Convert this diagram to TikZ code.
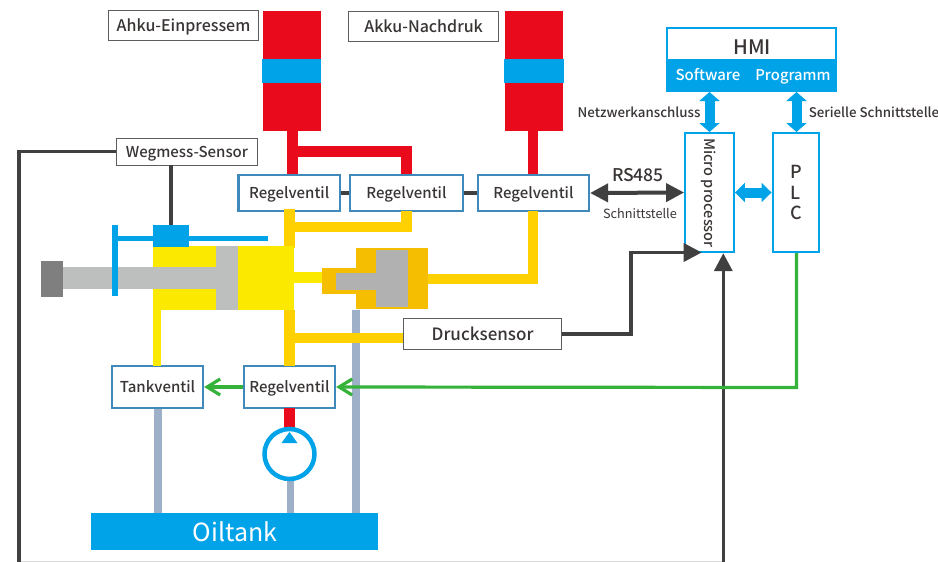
\documentclass[tikz,border=0pt]{standalone}
\usepackage{fontspec}
\setmainfont{Noto Sans CJK SC}[UprightFont=* Medium]
\newfontfamily\regfont{Noto Sans CJK SC}
\usetikzlibrary{arrows.meta}
\definecolor{cblue}{HTML}{00A2E8}
\definecolor{vblue}{HTML}{3F8ABB}
\definecolor{cred}{HTML}{E90A1C}
\definecolor{cyel}{HTML}{FCE900}
\definecolor{cgold}{HTML}{FFD100}
\definecolor{corg}{HTML}{F6BE00}
\definecolor{cgray}{HTML}{BDBFBE}
\definecolor{dgray}{HTML}{7F7F7F}
\definecolor{pgray}{HTML}{B1B1B1}
\definecolor{tank}{HTML}{9DB0C8}
\definecolor{cdark}{HTML}{404040}
\definecolor{cgreen}{HTML}{35B23A}
\definecolor{ctext}{HTML}{3A3535}
\tikzset{
  lbl/.style={draw=cdark!85,line width=0.9pt,fill=white,text=ctext,inner sep=0pt,font=\fontsize{16}{16}\selectfont,text height=11.7pt,text depth=0pt},
  valve/.style={draw=vblue,line width=2.2pt,fill=white,text=ctext,inner sep=0pt,font=\fontsize{15}{15}\selectfont,text height=11pt,text depth=0pt},
  unit/.style={draw=cblue,line width=2.4pt,fill=white,text=ctext,inner sep=0pt},
  oilred/.style={cred,line width=10.5pt},
  oilgold/.style={cgold,line width=10.5pt},
  oilyel/.style={cyel,line width=8pt},
  oiltank/.style={tank,line width=7.5pt},
  sig/.style={cdark,line width=3.5pt},
  grn/.style={cgreen,line width=3.2pt},
  vdbl/.style={cblue,line width=10pt,{Triangle[length=9pt,width=20pt]}-{Triangle[length=9pt,width=20pt]}},
  hdbl/.style={cblue,line width=10pt,{Triangle[length=10pt,width=19pt]}-{Triangle[length=10pt,width=19pt]}},
  rsdbl/.style={cdark,line width=4pt,{Triangle[length=18pt,width=18pt]}-{Triangle[length=18pt,width=18pt]}},
  sigarrow/.style={cdark,line width=3.5pt,-{Triangle[length=18pt,width=18pt]}},
  grnarrow/.style={grn,-{Straight Barb[length=13pt,width=16pt,line width=3.2pt]}},
  captxt/.style={text=ctext,inner sep=0pt,font=\fontsize{13.3}{13.3}\selectfont,text height=10pt,text depth=0pt},
}
\begin{document}
\begin{tikzpicture}[x=1pt,y=-1pt]
\useasboundingbox (0,0) rectangle (938,562);
\fill[white] (0,0) rectangle (938,562);
% tank lines first
\coordinate (tkr) at (356,310);
\node[fill=cblue,text=white,inner sep=0pt,minimum width=287pt,minimum height=37pt,font=\regfont\fontsize{25}{25}\selectfont] (oil) at (234.5,531.5) {\hspace{1pt}Oiltank};
\draw[oiltank] (tkr) -- (356,513);
% nodes
\node[valve,minimum width=101.5pt,minimum height=36pt] (rv1) at (289.2,193) {Regelventil};
\node[valve,minimum width=113pt,minimum height=36pt] (rv2) at (406.5,193) {Regelventil};
\node[valve,minimum width=111pt,minimum height=36pt] (rv3) at (533.5,193) {Regelventil};
\node[valve,minimum width=91pt,minimum height=42pt] (tv) at (157.5,387) {Tankventil};
\node[valve,minimum width=91pt,minimum height=42pt] (rv4) at (289.5,387) {Regelventil};
\node[lbl,minimum width=150.5pt,minimum height=30pt] (ak1) at (183.5,25.6) {Ahku-Einpressem\hspace{3pt}};
\node[lbl,minimum width=150pt,minimum height=30pt] (ak2) at (423.6,26.5) {Akku-Nachdruk\hspace{6pt}};
\node[lbl,minimum width=141pt,minimum height=27pt,font=\fontsize{15}{15}\selectfont,text height=11pt] (wm) at (187,151.5) {Wegmess-Sensor};
\node[lbl,minimum width=158.5pt,minimum height=30.5pt,font=\fontsize{17}{17}\selectfont,text height=12.5pt] (ds) at (482.6,334) {Drucksensor};
\node[unit,minimum width=48.5pt,minimum height=119pt] (mp) at (709.5,192.5) {};
\node[rotate=-90,text=ctext,inner sep=0pt,font=\fontsize{14.5}{15}\selectfont,text height=10.6pt,text depth=0pt] at (709.5,193) {Micro processor};
\node[unit,minimum width=46.5pt,minimum height=119pt,align=center,font=\fontsize{18}{20.5}\selectfont] (plc) at (796,192.5) {P\\L\\C};
\node[unit,minimum width=168.5pt,minimum height=63pt] (hmi) at (751.5,59.5) {};
\fill[cblue] (666,58.5) rectangle (837,92);
\node[text=ctext,inner sep=0pt,font=\fontsize{20}{20}\selectfont,text height=14.7pt,text depth=0pt] at (752,47) {HMI};
\node[text=white,inner sep=0pt,font=\fontsize{15}{15}\selectfont,text height=11pt,text depth=0pt] (sw) at (708,74.7) {Software};
\node[text=white,inner sep=0pt,font=\fontsize{14.8}{15}\selectfont,text height=11pt,text depth=0pt] (pg) at (793,74.7) {Programm};
% accumulators
\fill[cred] (263,11) rectangle (320.5,131);
\fill[cblue] (262,59) rectangle (321,82.5);
\fill[cred] (505,11) rectangle (563,131);
\fill[cblue] (504,59) rectangle (564,82.5);
% red pipes
\draw[oilred] (292.5,131) -- (292.5,174);
\draw[oilred] (292.5,151.5) -- (406.5,151.5) -- (406.5,174);
\draw[oilred] (533,131) -- (533,174);
\draw[oilred] (289.5,408) -- (289.5,431);
\draw[sig] (rv1.east) -- (rv2.west);
\draw[sig] (rv2.east) -- (rv3.west);
% gold pipes
\draw[oilgold] (289.5,209) -- (289.5,248);
\draw[oilgold] (289.5,227) -- (406.5,227) -- (406.5,211);
\draw[oilgold] (289.5,310) -- (289.5,366);
\coordinate (dsy) at (0,338);
\draw[oilgold] (289.5,338) -- (ds.west|-dsy);
\draw[oilgold] (533,211) -- (533,279) -- (425,279);
% main cylinder
\fill[cyel] (153,246) rectangle (294,310);
\fill[cgray] (216,246) rectangle (238,310);
\fill[cgray] (63,267) rectangle (216,289);
\fill[dgray] (41,261) rectangle (63,297);
\fill[cyel] (294,272) rectangle (323,283);
\draw[oilyel] (157,310) -- (157,366);
% small cylinder
\fill[corg] (322,268) rectangle (356,294);
\fill[corg] (356,248) rectangle (428,309);
\fill[pgray] (336,273) rectangle (376,290);
\fill[pgray] (376,250) rectangle (408,307);
% position sensor
\fill[cblue] (112,225) rectangle (118,296);
\fill[cblue] (118,236) rectangle (268,241);
\fill[cblue] (153,225) rectangle (189,247);
\coordinate (sensorblock) at (171,225);
\draw[sig] (wm.south-|sensorblock) -- (sensorblock);
\coordinate (corner) at (19,151.5);
\coordinate (bottomL) at (19,561.5);
\coordinate (bottomR) at (723.3,561.5);
\draw[black!15,line width=1pt] (bottomL) -- (bottomR);
\draw[sig] (wm.west) -- (corner) -- (19,562);
\draw[sigarrow] (723.3,562) -- (mp.south-|bottomR);
% pressure signal
\draw[sigarrow] (ds.east) -- (631,334) -- (631,252.5) -- (701.7,252.5);
% RS485
\draw[rsdbl] (rv3.east) -- (mp.west);
\node[text=ctext,inner sep=0pt,font=\fontsize{17.5}{17.5}\selectfont,text height=12.8pt,text depth=0pt] at (638,175) {RS485};
\node[captxt,font=\regfont\fontsize{12.7}{12.7}\selectfont,text height=9.3pt] at (640,213.5) {Schnittstelle};
\node[captxt] at (639,112) {Netzwerkanschluss};
\node[captxt] at (874,112) {Serielle Schnittstelle};
% blue arrows
\draw[vdbl] (709.5,92) -- (709.5,132);
\draw[vdbl] (796.5,92) -- (796.5,132);
\draw[hdbl] (mp.east) -- (plc.west);
% green
\draw[grnarrow] (796.5,253) -- (796.5,387.5) -- (rv4.east);
\draw[grnarrow] (rv4.west) -- (tv.east);
% tank lines
\draw[oiltank] (158,409) -- (158,513);
\draw[oiltank] (290.5,479) -- (290.5,513);
% pump
\draw[cblue,line width=4.5pt] (289.5,454) circle (25pt);
\fill[cblue] (289.5,432) -- (297.5,443) -- (281.5,443) -- cycle;
\end{tikzpicture}
\end{document}
